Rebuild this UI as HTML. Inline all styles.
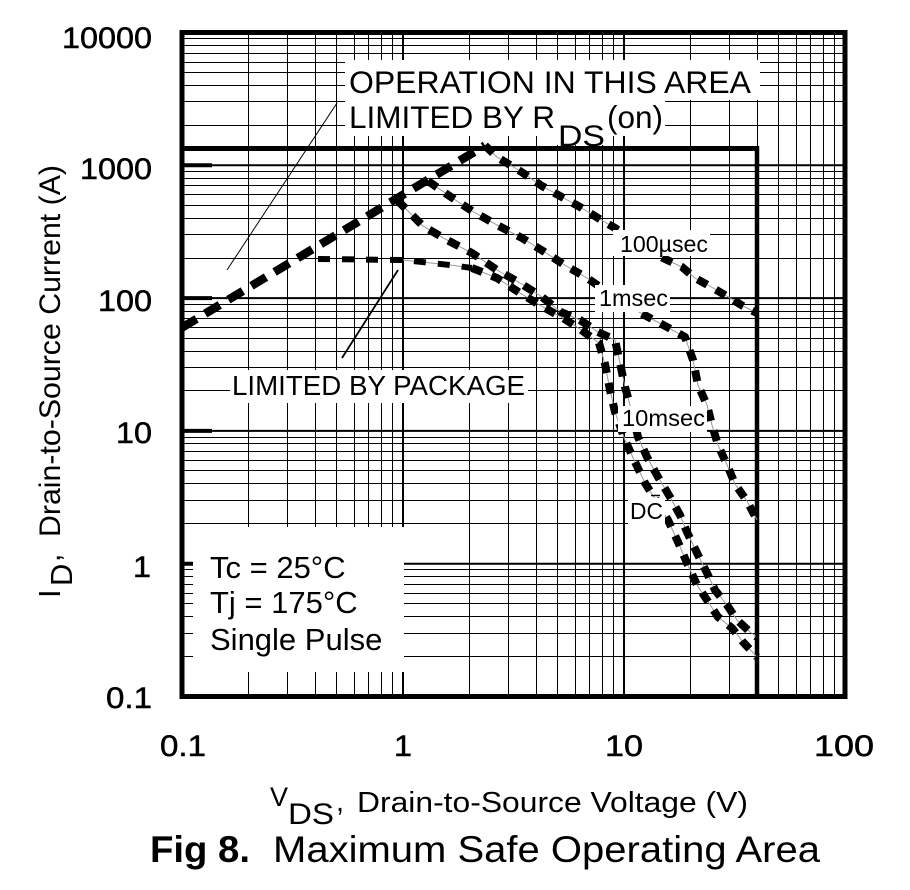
<!DOCTYPE html>
<html><head><meta charset="utf-8"><style>
html,body{margin:0;padding:0;background:#fff;}
svg{display:block;}
text{font-family:"Liberation Sans",Arial,sans-serif;fill:#000;}
.tk{stroke:#000;stroke-width:0.5;}
</style></head><body>
<svg width="910" height="890" viewBox="0 0 910 890" xmlns="http://www.w3.org/2000/svg">
<rect x="0" y="0" width="910" height="890" fill="#fff"/>
<!-- minor grid -->
<path fill="none" stroke="#000" stroke-width="1" shape-rendering="crispEdges" d="
M248.5 33V697M287.5 33V697M315.5 33V697M336.5 33V697M354.5 33V697M368.5 33V697M381.5 33V697M392.5 33V697
M469.5 33V697M508.5 33V697M536.5 33V697M557.5 33V697M575.5 33V697M589.5 33V697M602.5 33V697M613.5 33V697
M690.5 33V697M729.5 33V697M757.5 33V697M778.5 33V697M796.5 33V697M810.5 33V697M823.5 33V697M834.5 33V697
M182 38.5H845M182 45.5H845M182 53.5H845M182 62.5H845M182 72.5H845M182 85.5H845M182 101.5H845M182 125.5H845
M182 171.5H845M182 178.5H845M182 185.5H845M182 194.5H845M182 205.5H845M182 218.5H845M182 234.5H845M182 258.5H845
M182 304.5H845M182 311.5H845M182 318.5H845M182 327.5H845M182 338.5H845M182 351.5H845M182 367.5H845M182 390.5H845
M182 437.5H845M182 443.5H845M182 451.5H845M182 460.5H845M182 470.5H845M182 483.5H845M182 500.5H845M182 523.5H845
M182 569.5H845M182 576.5H845M182 584.5H845M182 593.5H845M182 603.5H845M182 616.5H845M182 633.5H845M182 656.5H845"/>
<!-- major grid -->
<path fill="none" stroke="#000" stroke-width="2" d="M403 33V697M624 33V697M182 165.3H845M182 298.1H845M182 430.9H845M182 563.7H845"/>
<path fill="none" stroke="#000" stroke-width="4" d="M182 165.3H212M182 298.1H212M182 430.9H212M182 563.7H212"/>

<!-- Tc box background -->
<rect x="193" y="527" width="211" height="145" fill="#fff"/>

<!-- limit lines -->
<path fill="none" stroke="#000" stroke-width="5" d="M182 148.5H759"/>
<path fill="none" stroke="#000" stroke-width="4.5" d="M757 146V697"/>

<!-- thin underlying lines -->
<g fill="none" stroke="#999" stroke-width="1">
<polyline points="485,145.5 497,157 520,171 542,186 560,196 580,207 598,218 615,228 640,244 663,258 682,267 695,278 713,288 730,298 743,306 757,313"/>
<polyline points="428,181 448,195 472,211 497,225 522,238 543,251 563,264 587,278 612,295 637,311 650,318 667,327 685,337 693,360 698,385 707,405 712,425 718,445 728,467 735,484 747,501 757,520"/>
<polyline points="397,200 423,226 447,240 472,253 497,270 520,283 542,297 561,312 580,320 598,332 615,340 620,363 625,387 632,412 638,437 647,457 658,477 670,497 680,515 687,532 698,555 707,573 715,590 727,605 737,620 750,632 757,637"/>
<polyline points="403,260 450,265 472,268 497,278 520,293 543,307 563,318 580,329 599,343 605,364 610,390 615,412 625,440 635,462 645,483 657,502 668,520 678,542 687,563 697,585 707,600 718,617 732,628 743,642 757,657"/>
</g>

<!-- curves -->
<g fill="none" stroke="#000" stroke-linejoin="round">
<path d="M182 327.6 L485 145.5" stroke-width="8.5" stroke-dasharray="17 10"/>
<polyline stroke-width="8" stroke-dasharray="11 10" points="485,145.5 497,157 520,171 542,186 560,196 580,207 598,218 615,228 640,244 663,258 682,267 695,278 713,288 730,298 743,306 757,313"/>
<polyline stroke-width="8" stroke-dasharray="11 10" points="428,181 448,195 472,211 497,225 522,238 543,251 563,264 587,278 612,295 637,311 650,318 667,327 685,337 693,360 698,385 707,405 712,425 718,445 728,467 735,484 747,501 757,520"/>
<polyline stroke-width="8" stroke-dasharray="12 10" points="397,200 423,226 447,240 472,253 497,270 520,283 542,297 561,312 580,320 598,332 615,340 620,363 625,387 632,412 638,437 647,457 658,477 670,497 680,515 687,532 698,555 707,573 715,590 727,605 737,620 750,632 757,637"/>
<polyline stroke-width="6" stroke-dasharray="12 12" points="318,259 403,260 450,265 472,268"/>
<polyline stroke-width="8" stroke-dasharray="11 10" points="472,268 497,278 520,293 543,307 563,318 580,329 599,343 605,364 610,390 615,412 625,440 635,462 645,483 657,502 668,520 678,542 687,563 697,585 707,600 718,617 732,628 743,642 757,657"/>
</g>

<!-- label backgrounds -->
<g fill="#fff">
<rect x="345" y="60" width="415" height="40"/>
<rect x="345" y="100" width="320" height="36"/>
<rect x="556" y="118" width="52" height="27"/>
<rect x="230" y="370" width="298" height="33"/>
<rect x="613" y="230" width="97" height="26"/>
<rect x="595" y="285" width="75" height="27"/>
<rect x="618" y="406" width="89" height="26"/>
<rect x="628" y="498" width="37" height="27"/>
</g>

<!-- leader lines -->
<path d="M337 103 L227 270" stroke="#000" stroke-width="1" fill="none"/>
<path d="M398 270 L342 358" stroke="#000" stroke-width="1.8" fill="none"/>

<!-- frame -->
<rect x="182" y="32.5" width="663" height="664" fill="none" stroke="#000" stroke-width="5"/>

<!-- annotations -->
<text x="349" y="93" font-size="31.5" textLength="402" lengthAdjust="spacingAndGlyphs">OPERATION IN THIS AREA</text>
<text x="349" y="128" font-size="31.5">LIMITED BY R</text>
<text x="558" y="146" font-size="30" textLength="47" lengthAdjust="spacingAndGlyphs">DS</text>
<text x="607" y="128" font-size="31.5">(on)</text>
<text x="232" y="395" font-size="28" textLength="293" lengthAdjust="spacingAndGlyphs">LIMITED BY PACKAGE</text>
<text x="620" y="252" font-size="23" textLength="88" lengthAdjust="spacingAndGlyphs">100µsec</text>
<text x="599" y="306" font-size="23" textLength="69" lengthAdjust="spacingAndGlyphs">1msec</text>
<text x="622" y="426" font-size="23" textLength="83" lengthAdjust="spacingAndGlyphs">10msec</text>
<text x="630" y="519" font-size="23" textLength="33" lengthAdjust="spacingAndGlyphs">DC</text>
<path d="M651 495.5H660" stroke="#000" stroke-width="1.5"/>

<text x="210" y="578" font-size="31">Tc = 25°C</text>
<text x="210" y="613" font-size="31">Tj = 175°C</text>
<text x="210" y="650" font-size="31">Single Pulse</text>

<!-- y tick labels -->
<g font-size="30" class="tk">
<text x="62" y="48" textLength="90" lengthAdjust="spacingAndGlyphs">10000</text>
<text x="80" y="179" textLength="72" lengthAdjust="spacingAndGlyphs">1000</text>
<text x="98" y="311" textLength="54" lengthAdjust="spacingAndGlyphs">100</text>
<text x="116" y="443" textLength="36" lengthAdjust="spacingAndGlyphs">10</text>
<text x="133" y="577" textLength="18" lengthAdjust="spacingAndGlyphs">1</text>
<text x="106" y="708" textLength="46" lengthAdjust="spacingAndGlyphs">0.1</text>
</g>
<!-- x tick labels -->
<g font-size="30" class="tk">
<text x="160" y="756" textLength="46" lengthAdjust="spacingAndGlyphs">0.1</text>
<text x="394" y="756" textLength="18" lengthAdjust="spacingAndGlyphs">1</text>
<text x="605" y="756" textLength="38" lengthAdjust="spacingAndGlyphs">10</text>
<text x="814" y="756" textLength="60" lengthAdjust="spacingAndGlyphs">100</text>
</g>

<!-- x axis title -->
<text x="270" y="806" font-size="27">V</text>
<text x="288" y="824" font-size="30" textLength="46" lengthAdjust="spacingAndGlyphs">DS</text>
<text x="336" y="811" font-size="29">,</text>
<text x="357" y="812" font-size="29" textLength="391" lengthAdjust="spacingAndGlyphs">Drain-to-Source Voltage (V)</text>

<!-- y axis title -->
<text transform="translate(60,598) rotate(-90)" font-size="31">I</text>
<text transform="translate(72,586) rotate(-90)" font-size="31">D</text>
<text transform="translate(60,562) rotate(-90)" font-size="30">,</text>
<text transform="translate(60,537) rotate(-90)" font-size="30" textLength="372" lengthAdjust="spacingAndGlyphs">Drain-to-Source Current (A)</text>

<!-- figure title -->
<text x="150" y="862" font-size="37" font-weight="bold" textLength="100" lengthAdjust="spacingAndGlyphs">Fig 8.</text>
<text x="273" y="862" font-size="37" textLength="547" lengthAdjust="spacingAndGlyphs">Maximum Safe Operating Area</text>
</svg>
</body></html>
